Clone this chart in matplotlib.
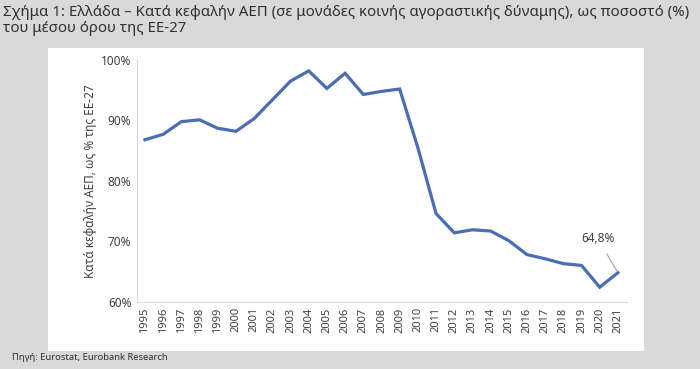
import matplotlib
matplotlib.use("Agg")
import matplotlib.pyplot as plt
from matplotlib.patches import Rectangle

plt.rcParams['font.family'] = ['Noto Sans', 'DejaVu Sans']

# Κατά κεφαλήν ΑΕΠ Ελλάδας, % του μέσου όρου ΕΕ-27
years = list(range(1995, 2022))
values = [86.8, 87.7, 89.8, 90.1, 88.7, 88.2, 90.3, 93.4, 96.5, 98.2,
          95.3, 97.8, 94.3, 94.8, 95.2, 85.5, 74.6, 71.4, 71.9, 71.7,
          70.1, 67.8, 67.1, 66.3, 66.0, 62.4, 64.8]
yticks = [60, 70, 80, 90, 100]

fig = plt.figure(figsize=(7, 3.69), dpi=100)
fig.patch.set_facecolor('#d9d9d9')
# λευκό πλαίσιο γραφήματος
fig.patches.append(Rectangle((48/700, 1-351/369), (644-48)/700, (351-48)/369,
                             transform=fig.transFigure, facecolor='white',
                             edgecolor='none', zorder=-10))

ax = fig.add_axes([137/700, 1-301.7/369, (627-137)/700, (301.7-60)/369])
ax.set_zorder(5)
ax.patch.set_alpha(0)
ax.plot(years, values, color='#4a6db3', linewidth=2.3, solid_joinstyle='miter')
ax.set_xlim(1994.56, 2021.5)
ax.set_ylim(60, 100)
ax.set_yticks(yticks)
ax.set_yticklabels([f'{v}%' for v in yticks], fontsize=8.5, color='#404040')
ax.set_xticks(years)
ax.set_xticklabels([str(y) for y in years], rotation=90, fontsize=8, color='#404040')
ax.tick_params(length=0, pad=4)
for s in ['top', 'right']:
    ax.spines[s].set_visible(False)
for s in ['left', 'bottom']:
    ax.spines[s].set_color('#d9d9d9')
    ax.spines[s].set_linewidth(0.8)
ax.set_ylabel('Κατά κεφαλήν ΑΕΠ, ως % της ΕΕ-27', fontsize=8.5, color='#404040', labelpad=3)

ax.annotate('64,8%', xy=(years[-1], values[-1]), xytext=(2019.9, 70.4),
            fontsize=8.5, color='#404040', ha='center', va='center',
            arrowprops=dict(arrowstyle='-', color='#a0a0a0', lw=0.8,
                            shrinkA=5, shrinkB=1))

fig.text(3/700, 1-12/369, 'Σχήμα 1: Ελλάδα – Κατά κεφαλήν ΑΕΠ (σε μονάδες κοινής αγοραστικής δύναμης), ως ποσοστό (%)',
         fontsize=10.8, color='#303030', va='center', ha='left')
fig.text(3/700, 1-28/369, 'του μέσου όρου της ΕΕ-27',
         fontsize=10.8, color='#303030', va='center', ha='left')
fig.text(12/700, 1-357/369, 'Πηγή: Eurostat, Eurobank Research',
         fontsize=6.8, color='#303030', va='center', ha='left')

fig.savefig('out.png', dpi=100, facecolor=fig.get_facecolor())
